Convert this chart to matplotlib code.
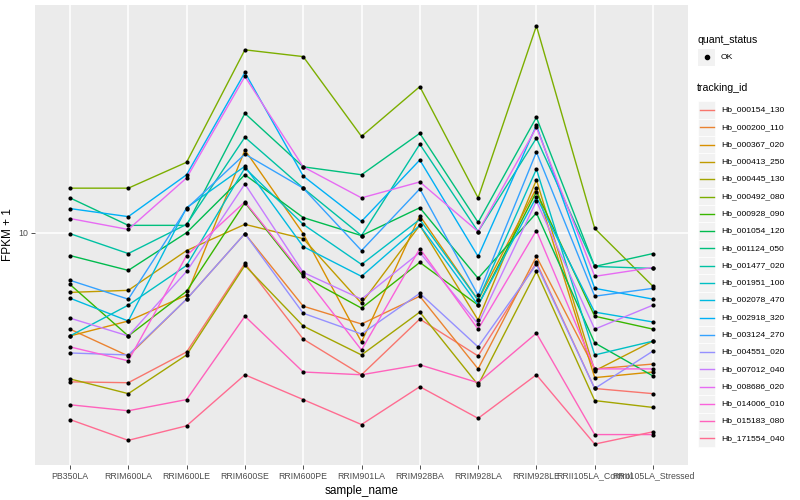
import numpy as np
import matplotlib
matplotlib.use("Agg")
import matplotlib.pyplot as plt
from matplotlib.patches import Rectangle
from matplotlib.lines import Line2D

plt.rcParams['font.family'] = ['Liberation Sans', 'DejaVu Sans']

samples = ["PB350LA", "RRIM600LA", "RRIM600LE", "RRIM600SE", "RRIM600PE",
           "RRIM901LA", "RRIM928BA", "RRIM928LA", "RRIM928LE",
           "RRII105LA_Control", "RRII105LA_Stressed"]

tracking_ids = ["Hb_000154_130", "Hb_000200_110", "Hb_000367_020", "Hb_000413_250",
                "Hb_000445_130", "Hb_000492_080", "Hb_000928_090", "Hb_001054_120",
                "Hb_001124_050", "Hb_001477_020", "Hb_001951_100", "Hb_002078_470",
                "Hb_002918_320", "Hb_003124_270", "Hb_004551_020", "Hb_007012_040",
                "Hb_008686_020", "Hb_014006_010", "Hb_015183_080", "Hb_171554_040"]

colors = ["#F8766D", "#EA8331", "#D89000", "#C09B00", "#A3A500", "#7CAE00",
          "#39B600", "#00BB4E", "#00BF7D", "#00C1A3", "#00BFC4", "#00BAE0",
          "#00B0F6", "#35A2FF", "#9590FF", "#C77CFF", "#E76BF3", "#FA62DB",
          "#FF62BC", "#FF6C91"]

fpkm_plus1 = [
    [2.51, 2.49, 3.31, 7.52, 3.73, 2.68, 4.49, 3.19, 7.59, 2.36, 2.25],
    [4.09, 3.19, 5.40, 9.91, 5.06, 4.29, 5.55, 2.83, 8.02, 2.83, 2.96],
    [3.84, 4.41, 5.60, 21.5, 9.91, 3.63, 11.7, 5.35, 15.1, 2.61, 2.75],
    [5.75, 5.86, 8.47, 10.8, 9.46, 5.20, 10.7, 4.45, 16.3, 2.78, 3.66],
    [2.58, 2.25, 3.22, 7.38, 4.21, 3.22, 4.79, 2.44, 6.98, 2.11, 1.98],
    [15.1, 15.1, 19.2, 54.4, 51.1, 24.4, 38.7, 13.8, 67.9, 10.4, 6.08],
    [6.19, 3.84, 5.81, 13.2, 6.67, 4.97, 7.59, 5.11, 14.6, 4.61, 4.09],
    [8.09, 7.05, 10.0, 17.1, 11.5, 9.73, 12.6, 6.55, 12.0, 3.60, 2.65],
    [13.8, 10.7, 10.7, 30.2, 18.4, 17.1, 25.1, 11.0, 29.1, 7.31, 8.24],
    [9.91, 8.24, 10.8, 24.2, 15.1, 9.73, 22.7, 10.1, 24.0, 7.31, 7.18],
    [3.84, 5.11, 7.38, 18.2, 10.8, 7.45, 11.3, 5.35, 18.0, 3.22, 3.66],
    [5.45, 4.41, 12.6, 18.5, 8.79, 6.67, 10.7, 5.11, 13.9, 4.79, 4.37],
    [12.5, 11.6, 17.1, 44.1, 16.9, 11.1, 19.6, 8.02, 27.0, 5.97, 5.40],
    [6.43, 5.40, 12.5, 20.7, 15.1, 8.47, 15.0, 5.60, 21.1, 5.55, 5.97],
    [3.28, 3.22, 5.40, 9.91, 4.74, 3.91, 5.70, 3.47, 7.45, 2.36, 3.34],
    [4.53, 3.84, 6.98, 15.7, 6.92, 5.40, 8.32, 4.29, 13.4, 4.09, 5.11],
    [11.4, 10.3, 16.6, 42.5, 18.4, 13.8, 16.0, 10.1, 26.5, 6.67, 7.24],
    [3.47, 3.05, 8.09, 13.3, 6.79, 3.37, 8.63, 4.09, 10.2, 2.83, 2.83],
    [2.03, 1.92, 2.13, 4.61, 2.75, 2.68, 2.94, 2.49, 3.94, 1.54, 1.54],
    [1.77, 1.46, 1.67, 2.68, 2.13, 1.69, 2.40, 1.79, 2.68, 1.41, 1.58],
]

y_ticks = [10]
y_tick_labels = ["10"]

W, H = 800, 500
fig = plt.figure(figsize=(W / 100, H / 100), dpi=100)
fig.patch.set_facecolor("white")
ax = fig.add_axes([35 / W, 1 - 465 / H, (688 - 35) / W, (465 - 5) / H])
ax.set_facecolor("#EBEBEB")

x = np.arange(len(samples))
for vals, c in zip(fpkm_plus1, colors):
    ax.plot(x, vals, color=c, lw=1.0, zorder=3)
for vals in fpkm_plus1:
    ax.scatter(x, vals, s=9, color="black", marker="o", zorder=4, linewidths=0)

ax.set_yscale("log")
allv = np.log10(np.array(fpkm_plus1))
lo, hi = allv.min(), allv.max()
pad = 0.05 * (hi - lo)
ax.set_ylim(10 ** (lo - pad), 10 ** (hi + pad))
ax.set_xlim(-0.6, len(samples) - 1 + 0.6)

ax.set_yticks(y_ticks)
ax.set_yticklabels(y_tick_labels)
ax.yaxis.set_minor_locator(matplotlib.ticker.NullLocator())
ax.set_xticks(x)
ax.set_xticklabels(samples)
ax.grid(True, which="major", color="white", lw=1.1, zorder=0)
ax.set_axisbelow(True)
for s in ax.spines.values():
    s.set_visible(False)
ax.tick_params(axis="both", colors="#333333", labelcolor="#4D4D4D",
               labelsize=6.3, length=2.7, width=0.6, pad=2)
ax.set_xlabel("sample_name", fontsize=8.5, color="black", labelpad=3)
ax.set_ylabel("FPKM + 1", fontsize=8.5, color="black", labelpad=3)

# legends
def fx(px):
    return px / W

def fy(py):
    return 1 - py / H

fig.text(fx(697), fy(40), "quant_status", fontsize=7.6, va="center", ha="left")
fig.patches.append(Rectangle((fx(698), fy(66)), 17.3 / W, 17.3 / H,
                             transform=fig.transFigure, facecolor="#F2F2F2",
                             edgecolor="none"))
fig.lines.append(Line2D([fx(706.6)], [fy(57.4)], transform=fig.transFigure,
                        marker="o", markersize=3, color="black", lw=0))
fig.text(fx(721), fy(57.4), "OK", fontsize=6.1, va="center", ha="left")

fig.text(fx(697), fy(88), "tracking_id", fontsize=7.6, va="center", ha="left")
y0 = 101.5
step = 17.28
for i, (tid, c) in enumerate(zip(tracking_ids, colors)):
    yc = y0 + i * step + step / 2
    fig.patches.append(Rectangle((fx(698), fy(yc + step / 2)), 17.3 / W, step / H,
                                 transform=fig.transFigure, facecolor="#F2F2F2",
                                 edgecolor="white", lw=0.5))
    fig.lines.append(Line2D([fx(699.5), fx(714)], [fy(yc), fy(yc)],
                            transform=fig.transFigure, color=c, lw=1.0))
    fig.text(fx(721), fy(yc), tid, fontsize=6.1, va="center", ha="left")

fig.savefig("out.png", dpi=100)
